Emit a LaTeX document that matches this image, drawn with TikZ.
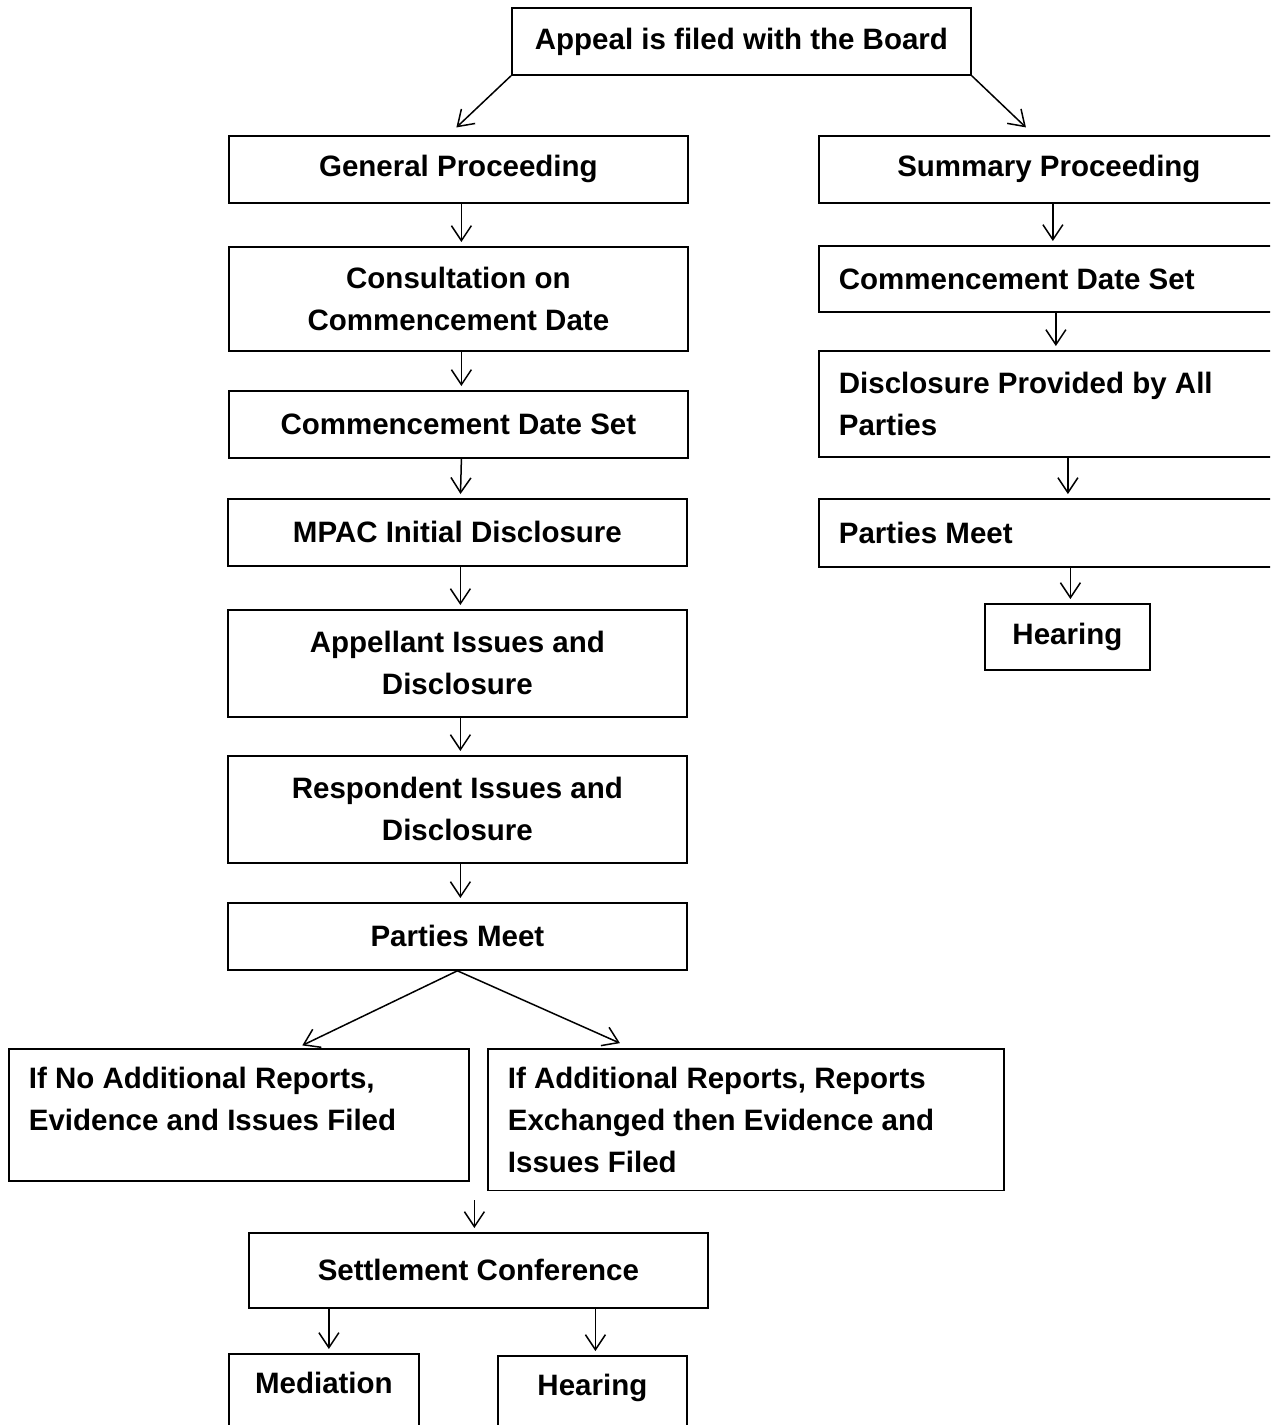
\documentclass[tikz,border=0pt]{standalone}
\usepackage{fontspec}
\setmainfont{Liberation Sans}
\usetikzlibrary{arrows.meta, positioning}

\begin{document}
\begin{tikzpicture}[x=1pt, y=-1pt,
        box/.style={draw, line width=1.8pt, anchor=north west, minimum width=459pt, minimum height=67pt,
            inner xsep=20pt, inner ysep=18pt, align=center, font=\bfseries\fontsize{29.5}{42}\selectfont},
        leftbox/.style={box, align=flush left, minimum width=0pt},
        arr/.style={-{Straight Barb[length=15pt,width=20pt]}, line width=1.5pt, shorten >=4pt}]
                \useasboundingbox (0,0) rectangle (1270,1425);
                \clip (0,0) rectangle (1270,1425);

                \node[box] (appeal) at (511,7) {Appeal is filed with the Board};

                \node[box] (general) at (228,135) {General Proceeding};
                \node[box] (consult) at (228,246) [minimum height=104pt] {Consultation on\\Commencement Date};
                \node[box] (gdate) at (228,390) {Commencement Date Set};
                \node[box] (mpac) at (227,498) {MPAC Initial Disclosure};
                \node[box] (appellant) at (227,609) [minimum height=107pt] {Appellant Issues and\\Disclosure};
                \node[box] (respondent) at (227,755) [minimum height=107pt] {Respondent Issues and\\Disclosure};
                \node[box] (gmeet) at (227,902) {Parties Meet};

                \node[leftbox, text width=420pt] (noreports) at (8,1048) {If No Additional Reports,\\Evidence and Issues Filed\\[-9pt]\mbox{}};
                \node[leftbox, text width=476pt] (reports) at (487,1048) {If Additional Reports, Reports\\Exchanged then Evidence and\\Issues Filed};
                \node[box] (settle) at (248,1232) [minimum height=75pt] {Settlement Conference};
                \node[box] (mediation) at (228,1353) [minimum width=190pt] {Mediation\\\mbox{}};
                \node[box] (ghearing) at (497,1355) [minimum width=189pt] {Hearing\\\mbox{}};

                \node[box] (summary) at (818,135) [minimum width=460pt] {Summary Proceeding};
                \node[leftbox, text width=420pt] (sdate) at (818,245) [minimum height=66pt] {Commencement Date Set};
                \node[leftbox, text width=420pt] (disclose) at (818,350) [minimum height=106pt] {Disclosure Provided by All\\Parties};
                \node[leftbox, text width=420pt] (smeet) at (818,498) [minimum height=68pt] {Parties Meet};
                \node[box] (shearing) at (984,603) [minimum width=165pt, minimum height=66pt] {Hearing};

                \draw[arr, shorten >=11pt] (appeal.south west) -- ([xshift=-10pt]general.north);
                \draw[arr, shorten >=11pt] (appeal.south east) -- ([xshift=-15pt]summary.north);

                \foreach \a/\b in {general/consult, consult/gdate, gdate/mpac, mpac/appellant,
                                   appellant/respondent, respondent/gmeet}
                    \draw[arr] ([xshift=3pt]\a.south) -- ([xshift=3pt]\b.north);

                \draw[arr, shorten >=6pt] (gmeet.south) -- ([xshift=58pt]noreports.north);
                \draw[arr, shorten >=12pt] (gmeet.south) -- ([xshift=-115pt]reports.north);

                \coordinate (join) at ([xshift=-4pt,yshift=32pt]settle.north);
                \draw[arr] (join) -- (join |- settle.north);

                \draw[arr] ([xshift=5pt]mediation.north |- settle.south) -- ([xshift=5pt]mediation.north);
                \draw[arr] ([xshift=3pt]ghearing.north |- settle.south) -- ([xshift=3pt]ghearing.north);

                \draw[arr] ([xshift=4pt]summary.south) -- ([xshift=4pt]sdate.north);
                \draw[arr] ([xshift=7pt]sdate.south) -- ([xshift=7pt]disclose.north);
                \draw[arr] ([xshift=19pt]disclose.south) -- ([xshift=19pt]smeet.north);
                \draw[arr] ([xshift=3pt]shearing.north |- smeet.south) -- ([xshift=3pt]shearing.north);
            \end{tikzpicture}
\end{document}
